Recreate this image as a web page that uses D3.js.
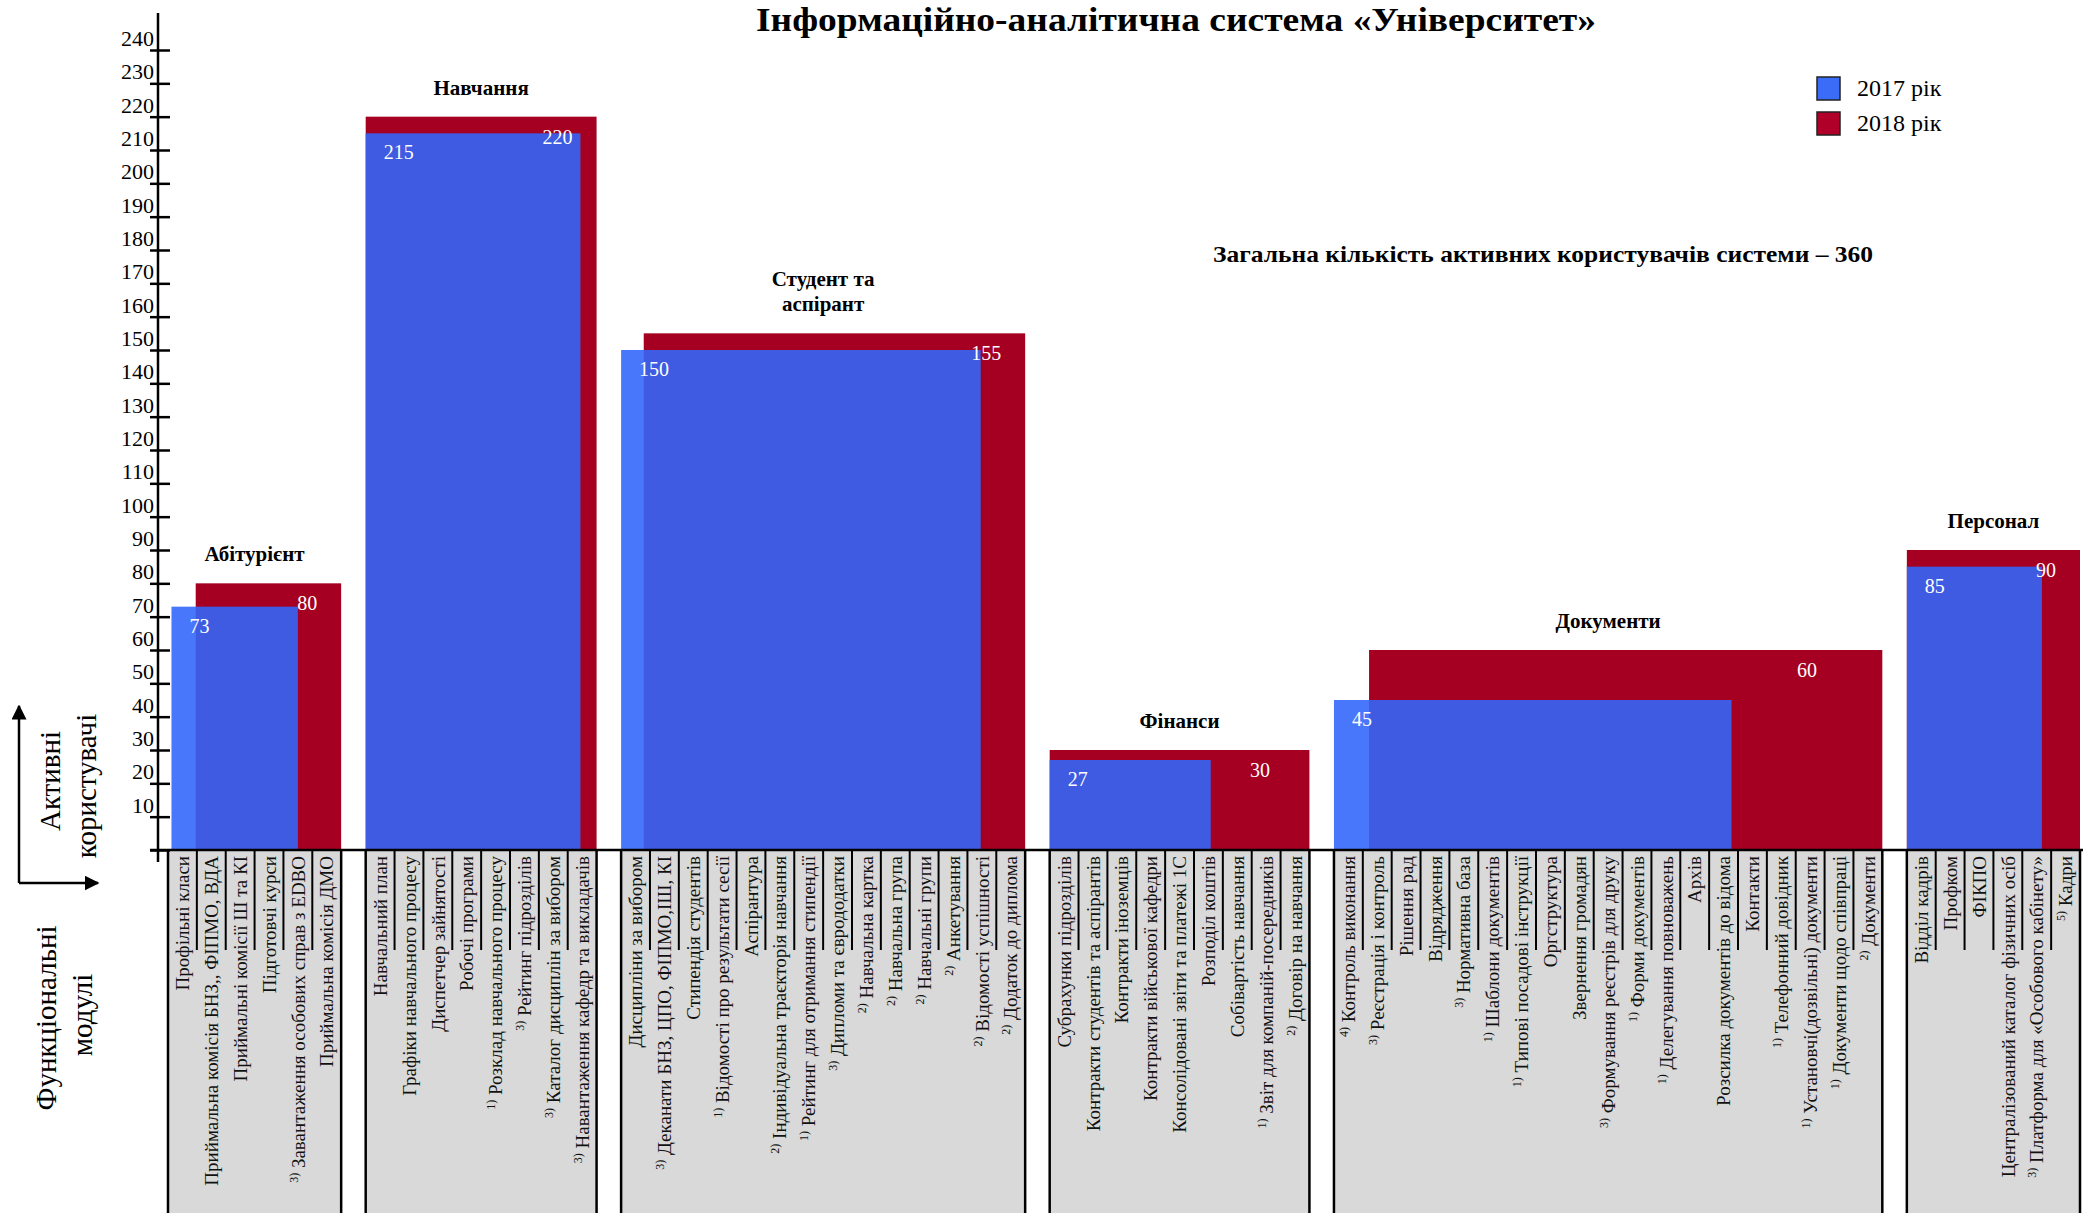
<!DOCTYPE html>
<html>
<head>
<meta charset="utf-8">
<script src="https://cdn.jsdelivr.net/npm/d3@7/dist/d3.min.js"></script>
<style>
    body { margin: 0; background: #fff; }
    svg { display: block; font-family: "Liberation Serif", "Times New Roman", serif; }
</style>
</head>
<body>
<script>
// ---- data ----
var groups = ['Абітурієнт', 'Навчання', 'Студент та\nаспірант', 'Фінанси', 'Документи', 'Персонал'];
var users2017 = [73, 215, 150, 27, 45, 85];
var users2018 = [80, 220, 155, 30, 60, 90];
var years = ['2017 рік', '2018 рік'];
var totalUsers = 360;
var yTicks = d3.range(0, 250, 10);

// functional modules of every group ("n)" prefix = footnote mark)
var modAbit = ['Профільні класи', 'Приймальна комісія БНЗ,, ФІПМО, ВДА', 'Приймальні комісії Ш та КІ',
    'Підготовчі курси', '3) Завантаження особових справ з EDBO', 'Приймальна комісія ДМО'];
var modStudy = ['Навчальний план', 'Графіки навчального процесу', 'Диспетчер зайнятості', 'Робочі програми',
    '1) Розклад навчального процесу', '3) Рейтинг підрозділів', '3) Каталог дисциплін за вибором',
    '3) Навантаження кафедр та викладачів'];
var modStudent = ['Дисципліни за вибором', '3) Деканати БНЗ, ЦПО, ФІПМО,ІШ, КІ', 'Стипендія студентів',
    '1) Відомості про результати сесії', 'Аспірантура', '2) Індивідуальна траєкторія навчання',
    '1) Рейтинг для отримання стипендії', '3) Дипломи та єврододатки', '2) Навчальна картка',
    '2) Навчальна група', '2) Навчальні групи', '2) Анкетування', '2) Відомості успішності',
    '2) Додаток до диплома'];
var modFinance = ['Субрахунки підрозділів', 'Контракти студентів та аспірантів', 'Контракти іноземців',
    'Контракти військової кафедри', 'Консолідовані звіти  та платежі 1С', 'Розподіл коштів',
    'Собівартість навчання', '1) Звіт для компаній-посередників', '2) Договір на навчання'];
var modDocs = ['4) Контроль виконання', '3) Реєстрація і контроль', 'Рішення рад', 'Відрядження',
    '3) Нормативна база', '1) Шаблони документів', '1) Типові посадові інструкції', 'Оргструктура',
    'Звернення громадян', '3) Формування реєстрів для друку', '1) Форми документів',
    '1) Делегування повноважень', 'Архів', 'Розсилка документів до відома', 'Контакти',
    '1) Телефонний довідник', '1) Установчі(дозвільні) документи', '1) Документи щодо співпраці',
    '2) Документи'];
var modStaff = ['Відділ кадрів', 'Профком', 'ФІКПО', 'Централізований каталог фізичних осіб',
    '3) Платформа для «Особового кабінету»', '5) Кадри'];
var modules = [modAbit, modStudy, modStudent, modFinance, modDocs, modStaff];

// ---- layout ----
var svgWidth = 2083, svgHeight = 1213;
var baseY = 850;
var gapSlots = 0.85;
// share of each group's box taken by the 2017 bar and where the 2018 bar starts
var barShape = [
    {b0: 0.02, b1: 0.75, r0: 0.16},
    {b0: 0, b1: 0.93, r0: 0},
    {b0: 0, b1: 0.89, r0: 0.056},
    {b0: 0, b1: 0.62, r0: 0},
    {b0: 0, b1: 0.725, r0: 0.064},
    {b0: 0, b1: 0.78, r0: 0}
];
var blue = 'rgb(49,102,250)', red = '#a50021';
var serif = '"Liberation Serif", "Times New Roman", serif';

var svg = d3.select('body')
    .append('svg')
    .attr('width', svgWidth)
    .attr('height', svgHeight)
    .attr('font-family', serif);

var defs = svg.append('defs');
defs.append('marker')
    .attr('id', 'arrow')
    .attr('viewBox', '0 0 10 10')
    .attr('refX', 9).attr('refY', 5)
    .attr('markerWidth', 6).attr('markerHeight', 6)
    .attr('markerUnits', 'strokeWidth')
    .attr('orient', 'auto')
    .append('path')
    .attr('d', 'M0,0 L10,5 L0,10 z')
    .attr('fill', 'black');

var y = d3.scaleLinear().domain([0, 240]).range([baseY, 50]);

// group start slot positions
var starts = [], acc = 0;
modules.forEach(function (m) {
    starts.push(acc);
    acc += m.length + gapSlots;
});
var x = d3.scaleLinear().domain([0, acc - gapSlots]).range([168, 2080]);

var boxes = groups.map(function (g, i) {
    return {x0: x(starts[i]), x1: x(starts[i] + modules[i].length)};
});

// ---- label area (grey boxes) ----
var labelArea = svg.append('g');
groups.forEach(function (g, i) {
    var b = boxes[i];
    var band = d3.scaleBand().domain(d3.range(modules[i].length)).range([b.x0, b.x1]);
    var gg = labelArea.append('g');

    gg.append('rect')
        .attr('x', b.x0).attr('y', baseY)
        .attr('width', b.x1 - b.x0).attr('height', svgHeight - baseY)
        .attr('fill', '#d9d9d9');

    gg.selectAll('line.div')
        .data(d3.range(1, modules[i].length))
        .enter().append('line')
        .attr('x1', function (k) { return band(k); })
        .attr('x2', function (k) { return band(k); })
        .attr('y1', baseY).attr('y2', baseY + 100)
        .attr('stroke', 'black').attr('stroke-width', 2);

    [b.x0, b.x1].forEach(function (xx) {
        gg.append('line')
            .attr('x1', xx).attr('x2', xx)
            .attr('y1', baseY).attr('y2', svgHeight)
            .attr('stroke', 'black').attr('stroke-width', 2.5);
    });

    var t = gg.selectAll('text')
        .data(modules[i])
        .enter().append('text')
        .attr('transform', function (d, k) {
            return 'translate(' + (band(k) + band.bandwidth() / 2) + ',' + (baseY + 6) + ') rotate(-90)';
        })
        .attr('text-anchor', 'end')
        .attr('dy', '0.35em')
        .attr('font-size', 19)
        .attr('fill', '#111');

    t.each(function (d) {
        var m = d.match(/^(\d\))\s*(.*)$/);
        var el = d3.select(this);
        if (m) {
            el.append('tspan').attr('font-size', 12).attr('baseline-shift', 'super').text(m[1]);
            el.append('tspan').text(' ' + m[2]);
        } else {
            el.text(d);
        }
    });
});

// ---- bars ----
var bars = svg.append('g');
groups.forEach(function (g, i) {
    var b = boxes[i], w = b.x1 - b.x0, s = barShape[i];
    var rx0 = b.x0 + s.r0 * w, bx0 = b.x0 + s.b0 * w, bx1 = b.x0 + s.b1 * w;

    bars.append('rect')
        .attr('x', rx0).attr('y', y(users2018[i]))
        .attr('width', b.x1 - rx0).attr('height', baseY - y(users2018[i]))
        .attr('fill', red);

    bars.append('rect')
        .attr('x', bx0).attr('y', y(users2017[i]))
        .attr('width', bx1 - bx0).attr('height', baseY - y(users2017[i]))
        .attr('fill', blue)
        .attr('fill-opacity', 0.89);

    bars.append('text')
        .attr('x', bx0 + 18).attr('y', y(users2017[i]) + 26)
        .attr('font-size', 20).attr('fill', 'white')
        .text(users2017[i]);

    var zone = b.x1 - bx1;
    bars.append('text')
        .attr('x', zone > 60 ? (bx1 + b.x1) / 2 : b.x1 - 24)
        .attr('text-anchor', zone > 60 ? 'middle' : 'end')
        .attr('y', y(users2018[i]) + 27)
        .attr('font-size', 20).attr('fill', 'white')
        .text(users2018[i]);

    var lines = g.split('\n');
    lines.forEach(function (ln, k) {
        bars.append('text')
            .attr('x', (b.x0 + b.x1) / 2)
            .attr('y', y(users2018[i]) - 22 - (lines.length - 1 - k) * 25)
            .attr('text-anchor', 'middle')
            .attr('font-size', 21).attr('font-weight', 'bold')
            .text(ln);
    });
});

// ---- axes ----
svg.append('line')
    .attr('x1', 150).attr('x2', svgWidth)
    .attr('y1', baseY).attr('y2', baseY)
    .attr('stroke', 'black').attr('stroke-width', 2.5);

var yAxis = svg.append('g')
    .attr('transform', 'translate(158,0)')
    .call(d3.axisLeft(y).tickValues(yTicks).tickSize(8));
yAxis.select('.domain').remove();
yAxis.selectAll('.tick line')
    .attr('x1', -8).attr('x2', 12)
    .attr('stroke', 'black').attr('stroke-width', 2.5);
yAxis.selectAll('.tick text')
    .attr('x', -4).attr('dy', '-0.2em')
    .attr('font-size', 22)
    .attr('font-family', serif)
    .attr('fill', 'black')
    .text(function (d) { return d === 0 ? '' : d; });

svg.append('line')
    .attr('x1', 158).attr('x2', 158)
    .attr('y1', 13).attr('y2', 862)
    .attr('stroke', 'black').attr('stroke-width', 2.5);

// ---- axis titles and arrows ----
svg.append('path')
    .attr('d', 'M19,883 V706')
    .attr('stroke', 'black').attr('stroke-width', 2.5)
    .attr('marker-end', 'url(#arrow)');
svg.append('path')
    .attr('d', 'M19,883 H98')
    .attr('stroke', 'black').attr('stroke-width', 2.5)
    .attr('marker-end', 'url(#arrow)');

[['Активні', 50, 781], ['користувачі', 86, 786], ['Функціональні', 46, 1018], ['модулі', 82, 1015]]
    .forEach(function (d) {
        svg.append('text')
            .attr('transform', 'translate(' + d[1] + ',' + d[2] + ') rotate(-90)')
            .attr('text-anchor', 'middle')
            .attr('dy', '0.35em')
            .attr('font-size', 29)
            .text(d[0]);
    });

// ---- titles ----
svg.append('text')
    .attr('x', 1176).attr('y', 31)
    .attr('text-anchor', 'middle')
    .attr('font-size', 34).attr('font-weight', 'bold')
    .attr('textLength', 840).attr('lengthAdjust', 'spacingAndGlyphs')
    .text('Інформаційно-аналітична система «Університет»');

svg.append('text')
    .attr('x', 1213).attr('y', 262)
    .attr('font-size', 24).attr('font-weight', 'bold')
    .attr('textLength', 660).attr('lengthAdjust', 'spacingAndGlyphs')
    .text('Загальна кількість активних користувачів системи – ' + totalUsers);

// ---- legend ----
var legend = svg.append('g').attr('transform', 'translate(1817,77)');
legend.selectAll('rect')
    .data(years)
    .enter().append('rect')
    .attr('x', 0).attr('y', function (d, i) { return i * 35; })
    .attr('width', 23).attr('height', 23)
    .attr('fill', function (d, i) { return i ? '#b0002a' : '#3a6cf8'; })
    .attr('stroke', '#222').attr('stroke-width', 1.5);
legend.selectAll('text')
    .data(years)
    .enter().append('text')
    .attr('x', 40).attr('y', function (d, i) { return i * 35 + 19; })
    .attr('font-size', 24)
    .text(function (d) { return d; });
</script>
</body>
</html>
